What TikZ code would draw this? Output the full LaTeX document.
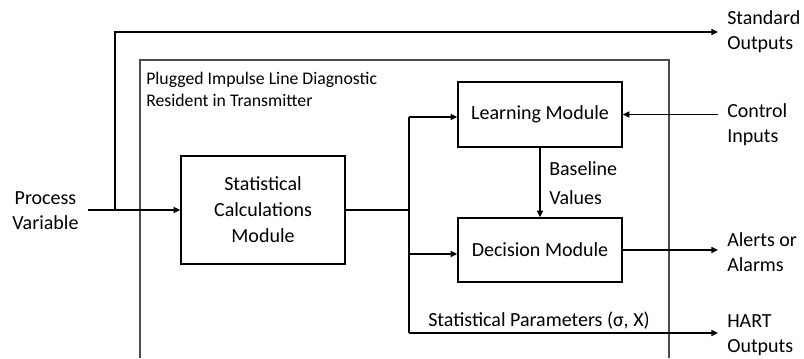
\documentclass[tikz,border=0pt]{standalone}
\usepackage{fontspec}
\setmainfont{Carlito}
\usetikzlibrary{arrows.meta}
\begin{document}
\begin{tikzpicture}[x=0.75pt,y=-0.75pt,
  lbl/.style={font=\fontsize{15}{18.75}\selectfont, align=left, inner xsep=6.75pt, inner ysep=0pt},
  box/.style={draw, line width=1pt, font=\fontsize{15}{19.5}\selectfont, align=center, inner sep=0pt, minimum width=123pt},
  conn/.style={line width=1pt},
  arr/.style={conn, -{Triangle[length=5pt,width=4.5pt]}},
  frame/.style={line width=0.8pt, black!70},
]
\useasboundingbox (0,0) rectangle (804,358);
% resident frame (open at the bottom)
\draw[frame] (140,358) -- (140,60) -- (669,60) -- (669,358);
\node[font=\fontsize{13.3}{16.5}\selectfont, align=left, inner sep=0pt, anchor=west] (hdr) at (146,89) {Plugged Impulse Line Diagnostic\\Resident in Transmitter};

% modules
\node[box, minimum height=81pt] (stat) at (263,210) {Statistical\\Calculations\\Module};
\node[box, minimum height=48.75pt] (learn) at (540,114.5) {Learning Module};
\node[box, minimum height=48pt] (dec) at (540,250) {Decision Module};

% labels
\node[lbl, align=center] (pv) at (45.5,211) {Process\\Variable};
\node[lbl, anchor=west] (std) at (718,32) {Standard\\Outputs};
\node[lbl, anchor=west] (ctl) at (718,125) {Control\\Inputs};
\node[lbl, anchor=west] (alr) at (718,252) {Alerts or\\Alarms};
\node[lbl, anchor=west] (hart) at (718,335) {HART\\Outputs};
\node[lbl, anchor=west, font=\fontsize{15}{22}\selectfont] (base) at (540,183) {Baseline\\Values};
\node[lbl, anchor=west] (sp) at (419,321) {Statistical Parameters (σ, X)};

% junction points
\coordinate (j) at (115,210);
\coordinate (bm) at (409,210);
\coordinate (bt) at (409,117);
\coordinate (bd) at (409,254);
\coordinate (bb) at (409,333);

% connectors
\draw[arr] (pv.east |- stat.west) -- (stat.west);
\draw[arr] (j) |- (std.west);
\draw[conn] (stat.east) -- (bm);
\draw[conn] (bt) -- (bb);
\draw[arr] (bt) -- (bt -| learn.west);
\draw[arr] (bd) -- (bd -| dec.west);
\draw[arr] (bb) -- (bb -| hart.west);
\draw[arr] (learn.south) -- (dec.north);
\draw[arr] (learn.east -| ctl.west) -- (learn.east);
\draw[arr] (dec.east) -- (dec.east -| alr.west);
\end{tikzpicture}
\end{document}
